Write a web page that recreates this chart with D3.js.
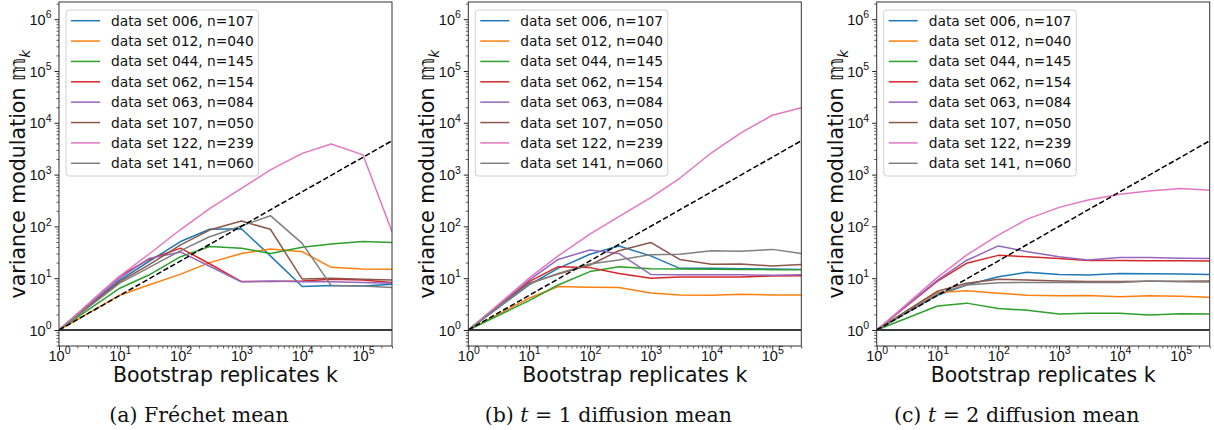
<!DOCTYPE html>
<html>
<head>
<meta charset="utf-8">
<script src="https://cdn.jsdelivr.net/npm/d3@7"></script>
<style>
  body { margin: 0; background: #fff; }
  svg { display: block; }
</style>
</head>
<body>
<div id="chart"></div>
<script>
// bootstrap replicates k (x values)
const kValues = [1, 10, 30, 100, 300, 1000, 3000, 10000, 30000, 100000, 300000]

const seriesNames = [
  "data set 006, n=107", "data set 012, n=040", "data set 044, n=145", "data set 062, n=154",
  "data set 063, n=084", "data set 107, n=050", "data set 122, n=239", "data set 141, n=060"
]

// (a) Frechet mean, one row per data set
const frechetMean = [
  [1, 9.2, 21, 51, 88, 90, 27, 6.9, 7.2, 7.1, 7.6],
  [1, 4.7, 7.4, 12, 20, 30, 36.6, 32.5, 16.2, 15, 14.9],
  [1, 6.4, 11.5, 26, 41, 38, 30, 39.4, 45.6, 51, 49],
  [1, 11, 23, 38, 19, 8.6, 8.6, 8.8, 9.5, 9.2, 8.3],
  [1, 10, 24, 32, 17, 8.5, 8.8, 8.5, 8.5, 8.3, 8.0],
  [1, 8.6, 18, 44, 85, 127, 88, 9.6, 10, 9.5, 9.2],
  [1, 11, 29, 87, 220, 540, 1230, 2570, 3900, 2400, 79],
  [1, 8, 16, 34, 63, 102, 161, 47, 7.2, 7.1, 6.6]
]

// (b) t = 1 diffusion mean
const diffusionT1 = [
  [1, 7.4, 15.5, 29, 42, 27, 15.5, 15.5, 15.2, 15, 14.8],
  [1, 4.1, 6.9, 6.7, 6.6, 5.2, 4.75, 4.7, 4.9, 4.75, 4.75],
  [1, 3.7, 7.4, 13.4, 16.7, 15.3, 15, 14.9, 14.8, 14.6, 14.6],
  [1, 8.6, 16.7, 16, 12.3, 10, 10.6, 10.6, 10.6, 11, 11.2],
  [1, 9.2, 23, 35, 30, 11.8, 11.7, 11.7, 11.6, 11.4, 11.7],
  [1, 8, 12, 18, 34, 49, 23, 18.6, 18.8, 17.2, 18.3],
  [1, 10, 27, 71, 154, 360, 850, 2640, 6300, 14000, 19500],
  [1, 7.7, 12.4, 18.8, 22.4, 28.5, 29, 34, 33, 36, 30]
]

// (c) t = 2 diffusion mean
const diffusionT2 = [
  [1, 4.7, 7.4, 10.7, 13, 11.8, 11.5, 12.3, 12.2, 12, 11.8],
  [1, 5.3, 5.75, 5.1, 4.7, 4.6, 4.65, 4.4, 4.6, 4.5, 4.3],
  [1, 2.9, 3.3, 2.6, 2.4, 2.04, 2.1, 2.1, 1.95, 2.07, 2.04],
  [1, 8.8, 19.4, 27.6, 26, 24, 22, 22, 21.8, 21.7, 21.5],
  [1, 9.2, 22, 42, 32.5, 26, 22.4, 25, 25, 24.3, 23.9],
  [1, 5.6, 8, 9.5, 9.2, 8.8, 8.6, 8.6, 8.7, 8.7, 8.8],
  [1, 10.4, 28, 68, 138, 233, 324, 416, 480, 540, 500],
  [1, 5.0, 7.4, 8.2, 8.3, 8.3, 8.3, 8.3, 8.8, 8.5, 8.4]
]

// dashed reference line and the m = 1 line
const refK = [1, 300000]
const refM = [1, 4500]
const baseM = [1, 1]

const xTicks = [1, 10, 100, 1000, 10000, 100000]
const yTicks = [1, 10, 100, 1000, 10000, 100000, 1000000]

const colors = d3.schemeCategory10.slice(0, 8)

const width = 1214, height = 430
const plotW = 333, plotTop = 2, plotBottom = 346
const panelLeft = [59, 468.3, 876.7]

const svg = d3.select("#chart").append("svg")
    .attr("width", width)
    .attr("height", height)
    .attr("viewBox", [0, 0, width, height])
    .style("font-family", "'DejaVu Sans', sans-serif")

// minor log ticks 2..9 per decade
function minorTicks(lo, hi) {
  const out = []
  for (let e = lo; e < hi; e++)
    for (let m = 2; m < 10; m++) out.push(m * Math.pow(10, e))
  return out
}

function powLabel(text) {
  text.each(function(d) {
    const t = d3.select(this).text(null)
    t.append("tspan").text("10")
    t.append("tspan").attr("dy", -6.5).attr("font-size", 10.5).text(Math.round(Math.log10(d)))
  })
}

function drawPanel(data, left, caption) {
  const x = d3.scaleLog().domain([1, 300000]).range([left, left + plotW])
  const y = d3.scaleLog().domain([Math.pow(10, -0.309), Math.pow(10, 6.332)]).range([plotBottom, plotTop])

  const g = svg.append("g")

  const clipId = "clip" + Math.round(left)
  g.append("clipPath").attr("id", clipId)
    .append("rect").attr("x", left).attr("y", plotTop).attr("width", plotW).attr("height", plotBottom - plotTop)

  // minor ticks
  g.append("g")
      .attr("transform", `translate(0,${plotBottom})`)
      .call(d3.axisBottom(x).tickValues(minorTicks(0, 6).filter(v => v <= 300000)).tickSize(2.5).tickFormat(""))
      .call(a => a.select(".domain").remove())
      .call(a => a.selectAll("line").attr("stroke", "#333").attr("stroke-width", 0.8))
  g.append("g")
      .attr("transform", `translate(${left},0)`)
      .call(d3.axisLeft(y).tickValues(minorTicks(-1, 7).filter(v => v > y.domain()[0] && v < y.domain()[1])).tickSize(2.5).tickFormat(""))
      .call(a => a.select(".domain").remove())
      .call(a => a.selectAll("line").attr("stroke", "#333").attr("stroke-width", 0.8))

  // major ticks
  g.append("g")
      .attr("transform", `translate(0,${plotBottom})`)
      .call(d3.axisBottom(x).tickValues(xTicks).tickSize(4.5).tickPadding(3))
      .call(a => a.select(".domain").remove())
      .call(a => a.selectAll("line").attr("stroke", "#222").attr("stroke-width", 1))
      .call(a => a.selectAll("text")
          .attr("font-size", 14.5)
          .attr("fill", "#111")
          .attr("dy", null)
          .attr("y", 14.5)
          .call(powLabel))
  g.append("g")
      .attr("transform", `translate(${left},0)`)
      .call(d3.axisLeft(y).tickValues(yTicks).tickSize(4.5).tickPadding(3))
      .call(a => a.select(".domain").remove())
      .call(a => a.selectAll("line").attr("stroke", "#222").attr("stroke-width", 1))
      .call(a => a.selectAll("text")
          .attr("font-size", 14.5)
          .attr("fill", "#111")
          .attr("dy", null)
          .attr("y", 5.2)
          .call(powLabel))

  const plot = g.append("g").attr("clip-path", `url(#${clipId})`)

  const line = d3.line()
      .x(d => x(d[0]))
      .y(d => y(d[1]))

  // m = 1 line
  plot.append("path")
      .attr("fill", "none")
      .attr("stroke", "#3a3a3a")
      .attr("stroke-width", 2)
      .attr("d", line(refK.map((k, i) => [k, baseM[i]])))

  data.forEach((vals, i) => {
    plot.append("path")
        .attr("fill", "none")
        .attr("stroke", colors[i])
        .attr("stroke-width", 1.5)
        .attr("stroke-linejoin", "round")
        .attr("d", line(kValues.map((k, j) => [k, vals[j]])))
  })

  plot.append("path")
      .attr("fill", "none")
      .attr("stroke", "#000")
      .attr("stroke-width", 1.5)
      .attr("stroke-dasharray", "5.5,2.5")
      .attr("d", line(refK.map((k, i) => [k, refM[i]])))

  // frame
  g.append("rect")
      .attr("x", left).attr("y", plotTop)
      .attr("width", plotW).attr("height", plotBottom - plotTop)
      .attr("fill", "none").attr("stroke", "#333").attr("stroke-width", 1)

  // legend
  const lg = g.append("g").attr("transform", `translate(${left + 7},10)`)
  lg.append("rect")
      .attr("width", 192.5).attr("height", 166)
      .attr("rx", 3)
      .attr("fill", "#fff").attr("fill-opacity", 0.8)
      .attr("stroke", "#d0d0d0")
  seriesNames.forEach((name, i) => {
    const cy = 10.7 + i * 20.37
    lg.append("line")
        .attr("x1", 5).attr("x2", 34)
        .attr("y1", cy).attr("y2", cy)
        .attr("stroke", colors[i]).attr("stroke-width", 1.5)
    lg.append("text")
        .attr("x", 45).attr("y", cy + 5)
        .attr("font-size", 13.8)
        .attr("fill", "#111")
        .text(name)
  })

  // axis labels
  g.append("text")
      .attr("x", left + plotW / 2).attr("y", 382)
      .attr("text-anchor", "middle")
      .attr("font-size", 20.5)
      .attr("fill", "#111")
      .text("Bootstrap replicates k")

  const yl = g.append("text")
      .attr("transform", `translate(${left - 34},${(plotTop + plotBottom) / 2}) rotate(-90)`)
      .attr("text-anchor", "middle")
      .attr("font-size", 20.5)
      .attr("fill", "#111")
  yl.append("tspan").text("variance modulation \u{1D55E}")
  yl.append("tspan").attr("dy", 5).attr("font-size", 14).attr("font-style", "italic").text("k")

  // caption
  const cap = g.append("text")
      .attr("x", left - 59 + 199).attr("y", 422)
      .attr("text-anchor", "middle")
      .attr("font-family", "'DejaVu Serif', serif")
      .attr("font-size", 20.5)
      .attr("fill", "#111")
  caption.forEach(part => {
    cap.append("tspan").attr("font-style", part.italic ? "italic" : null).text(part.text)
  })
}

drawPanel(frechetMean, panelLeft[0], [{ text: "(a) Fréchet mean" }])
drawPanel(diffusionT1, panelLeft[1], [{ text: "(b) " }, { text: "t", italic: true }, { text: " = 1 diffusion mean" }])
drawPanel(diffusionT2, panelLeft[2], [{ text: "(c) " }, { text: "t", italic: true }, { text: " = 2 diffusion mean" }])
</script>
</body>
</html>
